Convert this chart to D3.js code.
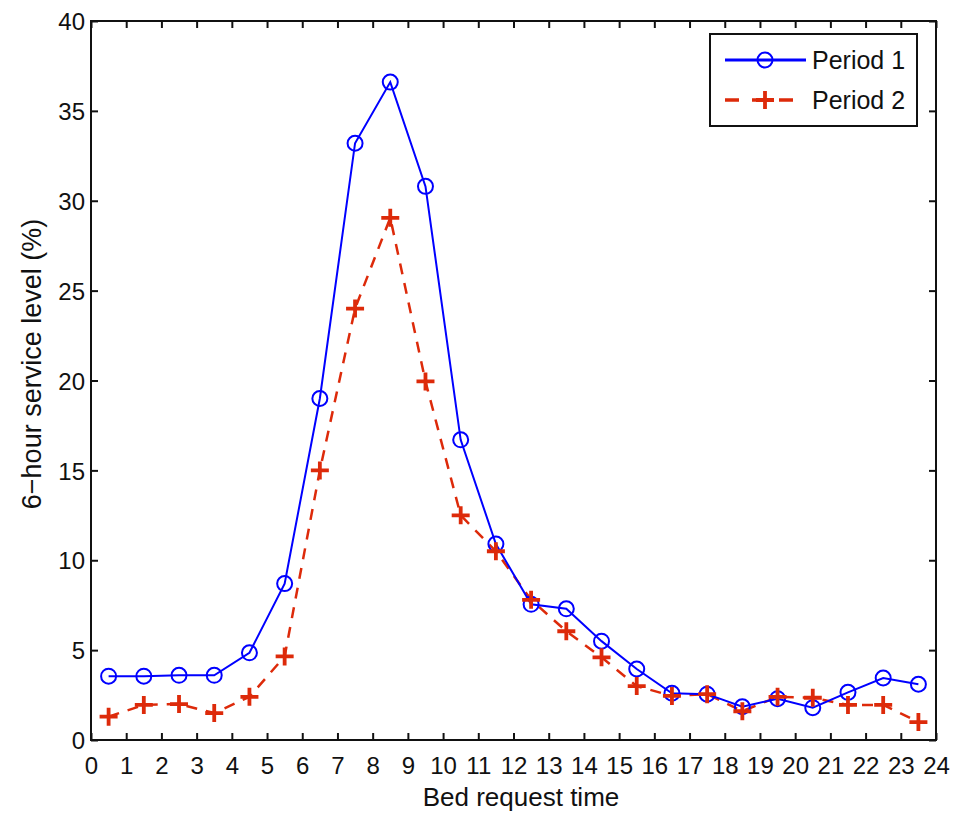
<!DOCTYPE html>
<html><head><meta charset="utf-8">
<script src="https://cdn.jsdelivr.net/npm/d3@7"></script>
<style>body{margin:0;background:#fff}svg{display:block}</style>
</head><body>
<script>
const hours = [0.5,1.5,2.5,3.5,4.5,5.5,6.5,7.5,8.5,9.5,10.5,11.5,12.5,13.5,14.5,15.5,16.5,17.5,18.5,19.5,20.5,21.5,22.5,23.5];
const period1 = [3.55,3.55,3.6,3.6,4.85,8.7,19.0,33.2,36.6,30.8,16.7,10.9,7.55,7.3,5.5,3.95,2.6,2.55,1.85,2.3,1.8,2.65,3.45,3.1];
const period2 = [1.3,1.95,2.0,1.5,2.4,4.65,15.0,24.0,29.05,19.95,12.5,10.5,7.8,6.05,4.6,3.0,2.45,2.55,1.6,2.4,2.35,1.95,1.95,1.0];
const xTicks = d3.range(0,25,1);
const yTicks = [0,5,10,15,20,25,30,35,40];
const seriesNames = ["Period 1","Period 2"];

const W=955,H=813;
const L=91,R=936,T=21,B=740;
const svg=d3.select("body").append("svg").attr("width",W).attr("height",H);
const x=d3.scaleLinear().domain([0,24]).range([L,R]);
const y=d3.scaleLinear().domain([0,40]).range([B,T]);
const font="Liberation Sans, Arial, sans-serif";
const blue="#0000ff", red="#dd2a0a";

svg.append("rect").attr("x",L).attr("y",T).attr("width",R-L).attr("height",B-T).attr("fill","#fff");

const tl=7;
const gxB=svg.append("g").attr("transform",`translate(0,${B})`).call(d3.axisBottom(x).tickValues(xTicks).tickSizeInner(-tl).tickSizeOuter(0).tickPadding(17));
const gxT=svg.append("g").attr("transform",`translate(0,${T})`).call(d3.axisTop(x).tickValues(xTicks).tickSizeInner(-tl).tickSizeOuter(0).tickFormat(""));
const gyL=svg.append("g").attr("transform",`translate(${L},0)`).call(d3.axisLeft(y).tickValues(yTicks).tickSizeInner(-tl).tickSizeOuter(0).tickPadding(6));
const gyR=svg.append("g").attr("transform",`translate(${R},0)`).call(d3.axisRight(y).tickValues(yTicks).tickSizeInner(-tl).tickSizeOuter(0).tickFormat(""));
[gxB,gxT,gyL,gyR].forEach(g=>{
  g.select(".domain").remove();
  g.selectAll(".tick line").attr("stroke","#111").attr("stroke-width",2);
  g.selectAll("text").attr("font-family",font).attr("font-size",24).attr("fill","#111");
});
gyL.selectAll("text").attr("dy","0.36em");
svg.append("rect").attr("x",L).attr("y",T).attr("width",R-L).attr("height",B-T).attr("fill","none").attr("stroke","#111").attr("stroke-width",2);

const line=d3.line().x((d,i)=>x(hours[i])).y(d=>y(d));
svg.append("path").datum(period2).attr("d",line).attr("fill","none").attr("stroke",red).attr("stroke-width",2.5).attr("stroke-dasharray","11,9");
svg.append("path").datum(period1).attr("d",line).attr("fill","none").attr("stroke",blue).attr("stroke-width",2);

svg.append("g").selectAll("circle").data(period1).join("circle")
  .attr("cx",(d,i)=>x(hours[i])).attr("cy",d=>y(d)).attr("r",7.5)
  .attr("fill","none").attr("stroke",blue).attr("stroke-width",2);
const plus=(g,cx,cy,s)=>g.append("path").attr("d",`M${cx-s},${cy}H${cx+s}M${cx},${cy-s}V${cy+s}`).attr("stroke",red).attr("stroke-width",3.8).attr("fill","none");
const pg=svg.append("g");
period2.forEach((d,i)=>plus(pg,x(hours[i]),y(d),9));

// axis labels
svg.append("text").attr("x",521).attr("y",806).attr("text-anchor","middle").attr("font-family",font).attr("font-size",26).attr("fill","#111").text("Bed request time");
svg.append("text").attr("transform",`translate(41,364) rotate(-90)`).attr("text-anchor","middle").attr("font-family",font).attr("font-size",27).attr("fill","#111").text("6\u2212hour service level (%)");

// legend
const lg=svg.append("g");
lg.append("rect").attr("x",710).attr("y",34).attr("width",207).attr("height",92).attr("fill","#fff").attr("stroke","#111").attr("stroke-width",2);
lg.append("line").attr("x1",725).attr("x2",806).attr("y1",60).attr("y2",60).attr("stroke",blue).attr("stroke-width",3);
lg.append("circle").attr("cx",765).attr("cy",60).attr("r",7.5).attr("fill","none").attr("stroke",blue).attr("stroke-width",2);
lg.append("line").attr("x1",725).attr("x2",806).attr("y1",100).attr("y2",100).attr("stroke",red).attr("stroke-width",3.5).attr("stroke-dasharray","14,13");
plus(lg,765,100,9);
lg.selectAll("text.l").data(seriesNames).join("text").attr("x",812).attr("y",(d,i)=>60+i*40).attr("dy","0.36em")
  .attr("font-family",font).attr("font-size",25).attr("fill","#111").text(d=>d);
</script>
</body></html>
